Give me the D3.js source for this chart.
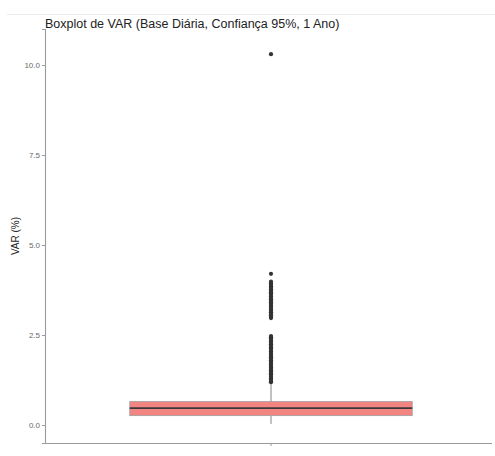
<!DOCTYPE html>
<html>
<head>
<meta charset="utf-8">
<script src="https://cdn.jsdelivr.net/npm/d3@7"></script>
<style>
  body { margin: 0; background: #fff; }
  text { font-family: "Liberation Sans", Arial, sans-serif; }
</style>
</head>
<body>
<svg id="chart" width="495" height="456"></svg>
<script>
// box statistics
var categories = ["VAR"];
var boxStats = [ { key: "VAR", lower: 0.03, q1: 0.26, median: 0.47, q3: 0.65, upper: 1.17 } ];

// outliers above the upper whisker
var outliers = [1.19, 1.22, 1.25, 1.29, 1.33, 1.36, 1.40, 1.44, 1.48, 1.52, 1.56, 1.60,
                1.64, 1.68, 1.72, 1.76, 1.80, 1.84, 1.88, 1.92, 1.96, 2.00, 2.04, 2.08,
                2.12, 2.16, 2.20, 2.24, 2.28, 2.32, 2.36, 2.40, 2.44, 2.47,
                2.97, 3.01, 3.05, 3.09, 3.13, 3.17, 3.21, 3.25, 3.29, 3.33, 3.37, 3.41,
                3.45, 3.49, 3.53, 3.57, 3.61, 3.65, 3.69, 3.73, 3.77, 3.81, 3.85, 3.89,
                3.93, 3.98, 4.20, 10.30];

var yTicks = [0, 2.5, 5, 7.5, 10];

var svg = d3.select("#chart");

// faint separator line at the top
svg.append("line").attr("x1", 7).attr("x2", 495).attr("y1", 14.5).attr("y2", 14.5)
    .attr("stroke", "#ececec").attr("stroke-width", 1);

var x = d3.scaleBand().domain(categories).range([45, 497]).paddingOuter(0.3).paddingInner(0);
var y = d3.scaleLinear().domain([-0.5, 11]).range([443, 29]);

// y axis
var yAxis = svg.append("g").attr("transform", "translate(45,0)")
    .call(d3.axisLeft(y).tickValues(yTicks).tickFormat(d3.format(".1f")).tickSize(3).tickPadding(2));
yAxis.select(".domain").attr("stroke", "#9a9a9a").attr("stroke-width", 1.1);
yAxis.selectAll(".tick line").attr("stroke", "#9a9a9a");
yAxis.selectAll(".tick text").attr("fill", "#6a6a6a").style("font-size", "8px");

// x axis (no labels)
var xAxis = svg.append("g").attr("transform", "translate(0,443)")
    .call(d3.axisBottom(x).tickSize(3).tickFormat(""));
xAxis.select(".domain").attr("d", "M45,0.5H492").attr("stroke", "#9a9a9a").attr("stroke-width", 1.1);
xAxis.selectAll(".tick line").attr("stroke", "#9a9a9a");

var cx = function(d) { return x(d.key) + x.bandwidth() / 2; };

// whiskers
var g = svg.append("g");
g.selectAll("line.whisk").data(boxStats).enter().append("line")
    .attr("x1", cx).attr("x2", cx)
    .attr("y1", function(d) { return y(d.upper); })
    .attr("y2", function(d) { return y(d.lower); })
    .attr("stroke", "#666").attr("stroke-width", 0.8);

// box
g.selectAll("rect").data(boxStats).enter().append("rect")
    .attr("x", function(d) { return x(d.key); })
    .attr("width", x.bandwidth())
    .attr("y", function(d) { return y(d.q3); })
    .attr("height", function(d) { return y(d.q1) - y(d.q3); })
    .attr("fill", "#f28482").attr("stroke", "#a0a0a0").attr("stroke-width", 0.8);

// median
g.selectAll("line.med").data(boxStats).enter().append("line")
    .attr("x1", function(d) { return x(d.key); })
    .attr("x2", function(d) { return x(d.key) + x.bandwidth(); })
    .attr("y1", function(d) { return y(d.median); })
    .attr("y2", function(d) { return y(d.median); })
    .attr("stroke", "#3a3a3a").attr("stroke-width", 1.6);

// outlier points
g.selectAll("circle").data(outliers).enter().append("circle")
    .attr("cx", x("VAR") + x.bandwidth() / 2)
    .attr("cy", function(d) { return y(d); })
    .attr("r", 2.1)
    .attr("fill", "#333");

// title
svg.append("text").attr("x", 45).attr("y", 28)
    .style("font-size", "12.5px").attr("fill", "#222")
    .text("Boxplot de VAR (Base Diária, Confiança 95%, 1 Ano)");

// y label
svg.append("text").attr("transform", "translate(19,236) rotate(-90)")
    .attr("text-anchor", "middle").style("font-size", "10px").attr("fill", "#222")
    .text("VAR (%)");
</script>
</body>
</html>
